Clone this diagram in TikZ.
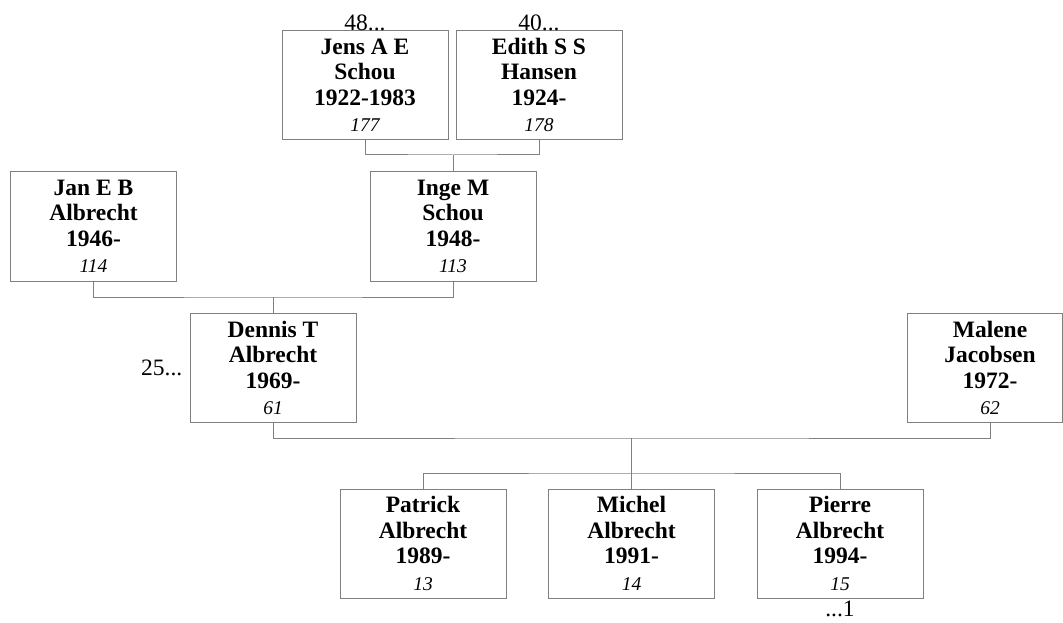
\documentclass[tikz,border=0pt]{standalone}
\usepackage{fontspec}
\setmainfont{Liberation Serif}
\begin{document}
\begin{tikzpicture}[x=1pt,y=-1pt,
  person/.style={draw=black!50, line width=1pt, rectangle, minimum width=166pt, minimum height=109pt,
    inner sep=0pt, align=center, font=\fontsize{23.5}{25.5}\selectfont\bfseries},
  nobox/.style={person, draw=none},
  conn/.style={draw=black!50, line width=1pt},
  extra/.style={font=\fontsize{23.5}{25}\selectfont, inner sep=0pt}]
\useasboundingbox (0,0) rectangle (1063,623);
\newcommand{\idn}[1]{\\[1pt]{\fontsize{19.5}{25}\selectfont\mdseries\itshape #1}}
% generation 1
\node[person] (jens) at (365,85) {Jens A E\\Schou\\1922-1983\idn{177}};
\node[person] (edith) at (539,85) {Edith S S\\Hansen\\1924-\hspace*{8pt}\idn{178}};
% generation 2
\node[person] (jan) at (93.5,226.5) {Jan E B\\Albrecht\\1946-\hspace*{8pt}\idn{114}};
\node[person] (inge) at (453,226.5) {Inge M\\Schou\\1948-\hspace*{8pt}\idn{113}};
% generation 3
\node[person] (dennis) at (273,368) {Dennis T\\Albrecht\\1969-\hspace*{8pt}\idn{61}};
\node[nobox] (malene) at (990,368) {Malene\\Jacobsen\\1972-\hspace*{8pt}\idn{62}};
\draw[conn] (907,313.5) rectangle (1062,422.5);
% generation 4
\node[person] (patrick) at (423,543.5) {Patrick\\Albrecht\\1989-\hspace*{8pt}\idn{13}};
\node[person] (michel) at (631.5,543.5) {Michel\\Albrecht\\1991-\hspace*{8pt}\idn{14}};
\node[person] (pierre) at (840,543.5) {Pierre\\Albrecht\\1994-\hspace*{8pt}\idn{15}};
% extra labels
\node[extra, anchor=south] (l48) at ([yshift=-1pt]jens.north) {48...};
\node[extra, anchor=south] (l40) at ([yshift=-1pt]edith.north) {40...};
\node[extra, anchor=east] (l25) at ([xshift=-7pt]dennis.west) {25...};
\node[extra, anchor=north] (l1) at ([yshift=-2pt]pierre.south) {...1};
% connectors
\coordinate (m1) at (453,155);
\draw[conn] (jens.south) |- (m1) -| (edith.south);
\draw[conn] (m1) -- (inge.north);
\coordinate (m2) at (273,297);
\draw[conn] (jan.south) |- (m2) -| (inge.south);
\draw[conn] (m2) -- (dennis.north);
\coordinate (m3) at (631.5,438);
\draw[conn] (dennis.south) |- (m3) -| (malene.south |- 0,422.5);
\coordinate (m4) at (631.5,473);
\draw[conn] (m3) -- (m4);
\draw[conn] (patrick.north) |- (m4) -| (pierre.north);
\draw[conn] (m4) -- (michel.north);
\end{tikzpicture}
\end{document}
